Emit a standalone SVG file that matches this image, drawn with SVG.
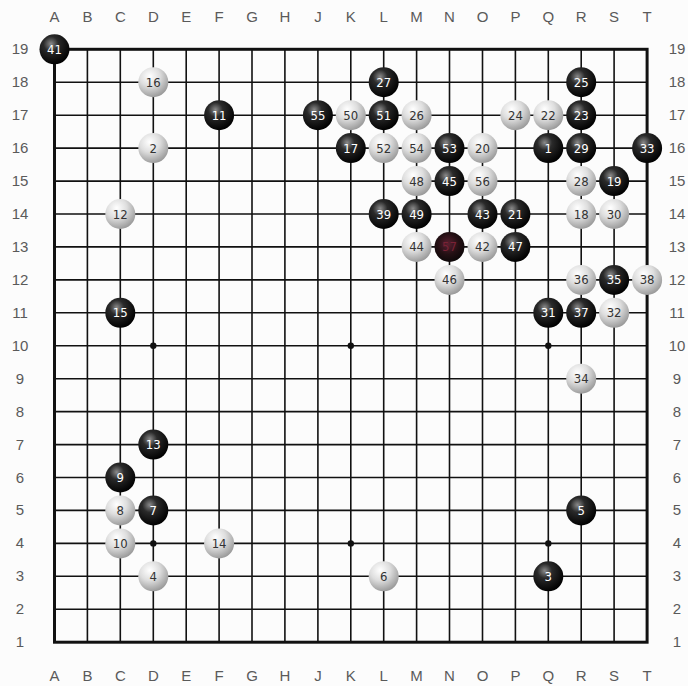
<svg xmlns="http://www.w3.org/2000/svg" width="688" height="686" viewBox="0 0 688 686">
<defs>
<radialGradient id="gb" cx="0.38" cy="0.32" r="0.7">
<stop offset="0" stop-color="#8a8a8a"/>
<stop offset="0.35" stop-color="#2a2a2a"/>
<stop offset="1" stop-color="#000"/>
</radialGradient>
<radialGradient id="gw" cx="0.38" cy="0.3" r="0.75">
<stop offset="0" stop-color="#ffffff"/>
<stop offset="0.45" stop-color="#dedede"/>
<stop offset="1" stop-color="#949494"/>
</radialGradient>
<radialGradient id="gm" cx="0.45" cy="0.4" r="0.7">
<stop offset="0" stop-color="#5a2030"/>
<stop offset="0.5" stop-color="#241014"/>
<stop offset="1" stop-color="#050505"/>
</radialGradient>
</defs>
<style>
.grid line{stroke:#111;stroke-width:1.6}
.border{fill:none;stroke:#111;stroke-width:3}
.star{fill:#111}
.lab{font-family:"Liberation Sans",Arial,sans-serif;font-size:15px;fill:#5a5a5a;text-anchor:middle}
.b circle{fill:url(#gb)}
.w circle{fill:url(#gw)}
.m circle{fill:url(#gm)}
.b text,.w text,.m text{font-family:"DejaVu Sans Condensed","Liberation Sans",sans-serif;font-size:13px;text-anchor:middle}
.b text{fill:#fff}
.w text{fill:#333}
.m text{fill:#7a2236}
</style>
<rect x="0" y="0" width="688" height="686" fill="#fcfcfc"/>
<g id="labels" class="lab">
<text x="54.5" y="22">A</text><text x="87.4" y="22">B</text><text x="120.3" y="22">C</text><text x="153.3" y="22">D</text><text x="186.2" y="22">E</text><text x="219.1" y="22">F</text><text x="252" y="22">G</text><text x="284.9" y="22">H</text><text x="317.9" y="22">J</text><text x="350.8" y="22">K</text><text x="383.7" y="22">L</text><text x="416.6" y="22">M</text><text x="449.5" y="22">N</text><text x="482.5" y="22">O</text><text x="515.4" y="22">P</text><text x="548.3" y="22">Q</text><text x="581.2" y="22">R</text><text x="614.1" y="22">S</text><text x="647.1" y="22">T</text>
<text x="54.5" y="681">A</text><text x="87.4" y="681">B</text><text x="120.3" y="681">C</text><text x="153.3" y="681">D</text><text x="186.2" y="681">E</text><text x="219.1" y="681">F</text><text x="252" y="681">G</text><text x="284.9" y="681">H</text><text x="317.9" y="681">J</text><text x="350.8" y="681">K</text><text x="383.7" y="681">L</text><text x="416.6" y="681">M</text><text x="449.5" y="681">N</text><text x="482.5" y="681">O</text><text x="515.4" y="681">P</text><text x="548.3" y="681">Q</text><text x="581.2" y="681">R</text><text x="614.1" y="681">S</text><text x="647.1" y="681">T</text>
<text x="20" y="54.3">19</text><text x="20" y="87.2">18</text><text x="20" y="120.2">17</text><text x="20" y="153.1">16</text><text x="20" y="186.1">15</text><text x="20" y="219">14</text><text x="20" y="251.9">13</text><text x="20" y="284.9">12</text><text x="20" y="317.8">11</text><text x="20" y="350.7">10</text><text x="20" y="383.7">9</text><text x="20" y="416.6">8</text><text x="20" y="449.6">7</text><text x="20" y="482.5">6</text><text x="20" y="515.4">5</text><text x="20" y="548.4">4</text><text x="20" y="581.3">3</text><text x="20" y="614.3">2</text><text x="20" y="647.2">1</text>
<text x="677" y="54.3">19</text><text x="677" y="87.2">18</text><text x="677" y="120.2">17</text><text x="677" y="153.1">16</text><text x="677" y="186.1">15</text><text x="677" y="219">14</text><text x="677" y="251.9">13</text><text x="677" y="284.9">12</text><text x="677" y="317.8">11</text><text x="677" y="350.7">10</text><text x="677" y="383.7">9</text><text x="677" y="416.6">8</text><text x="677" y="449.6">7</text><text x="677" y="482.5">6</text><text x="677" y="515.4">5</text><text x="677" y="548.4">4</text><text x="677" y="581.3">3</text><text x="677" y="614.3">2</text><text x="677" y="647.2">1</text>
</g>
<g id="connectors">
<g class="grid">
<line x1="87.4" y1="49.3" x2="87.4" y2="642.2"/><line x1="120.3" y1="49.3" x2="120.3" y2="642.2"/><line x1="153.3" y1="49.3" x2="153.3" y2="642.2"/><line x1="186.2" y1="49.3" x2="186.2" y2="642.2"/><line x1="219.1" y1="49.3" x2="219.1" y2="642.2"/><line x1="252" y1="49.3" x2="252" y2="642.2"/><line x1="284.9" y1="49.3" x2="284.9" y2="642.2"/><line x1="317.9" y1="49.3" x2="317.9" y2="642.2"/><line x1="350.8" y1="49.3" x2="350.8" y2="642.2"/><line x1="383.7" y1="49.3" x2="383.7" y2="642.2"/><line x1="416.6" y1="49.3" x2="416.6" y2="642.2"/><line x1="449.5" y1="49.3" x2="449.5" y2="642.2"/><line x1="482.5" y1="49.3" x2="482.5" y2="642.2"/><line x1="515.4" y1="49.3" x2="515.4" y2="642.2"/><line x1="548.3" y1="49.3" x2="548.3" y2="642.2"/><line x1="581.2" y1="49.3" x2="581.2" y2="642.2"/><line x1="614.1" y1="49.3" x2="614.1" y2="642.2"/>
<line x1="54.5" y1="82.2" x2="647.1" y2="82.2"/><line x1="54.5" y1="115.2" x2="647.1" y2="115.2"/><line x1="54.5" y1="148.1" x2="647.1" y2="148.1"/><line x1="54.5" y1="181.1" x2="647.1" y2="181.1"/><line x1="54.5" y1="214" x2="647.1" y2="214"/><line x1="54.5" y1="246.9" x2="647.1" y2="246.9"/><line x1="54.5" y1="279.9" x2="647.1" y2="279.9"/><line x1="54.5" y1="312.8" x2="647.1" y2="312.8"/><line x1="54.5" y1="345.7" x2="647.1" y2="345.7"/><line x1="54.5" y1="378.7" x2="647.1" y2="378.7"/><line x1="54.5" y1="411.6" x2="647.1" y2="411.6"/><line x1="54.5" y1="444.6" x2="647.1" y2="444.6"/><line x1="54.5" y1="477.5" x2="647.1" y2="477.5"/><line x1="54.5" y1="510.4" x2="647.1" y2="510.4"/><line x1="54.5" y1="543.4" x2="647.1" y2="543.4"/><line x1="54.5" y1="576.3" x2="647.1" y2="576.3"/><line x1="54.5" y1="609.3" x2="647.1" y2="609.3"/>
</g>
<rect class="border" x="54.5" y="49.3" width="592.6" height="592.9"/>
<g class="star">
<circle cx="153.3" cy="148.1" r="3.2"/><circle cx="350.8" cy="148.1" r="3.2"/><circle cx="548.3" cy="148.1" r="3.2"/>
<circle cx="153.3" cy="345.7" r="3.2"/><circle cx="350.8" cy="345.7" r="3.2"/><circle cx="548.3" cy="345.7" r="3.2"/>
<circle cx="153.3" cy="543.4" r="3.2"/><circle cx="350.8" cy="543.4" r="3.2"/><circle cx="548.3" cy="543.4" r="3.2"/>
</g>
</g>
<g id="s1" class="b"><circle cx="548.3" cy="148.1" r="15"/><text x="548.3" y="152.6">1</text></g>
<g id="s2" class="w"><circle cx="153.3" cy="148.1" r="15"/><text x="153.3" y="152.6">2</text></g>
<g id="s3" class="b"><circle cx="548.3" cy="576.3" r="15"/><text x="548.3" y="580.8">3</text></g>
<g id="s4" class="w"><circle cx="153.3" cy="576.3" r="15"/><text x="153.3" y="580.8">4</text></g>
<g id="s5" class="b"><circle cx="581.2" cy="510.4" r="15"/><text x="581.2" y="514.9">5</text></g>
<g id="s6" class="w"><circle cx="383.7" cy="576.3" r="15"/><text x="383.7" y="580.8">6</text></g>
<g id="s7" class="b"><circle cx="153.3" cy="510.4" r="15"/><text x="153.3" y="514.9">7</text></g>
<g id="s8" class="w"><circle cx="120.3" cy="510.4" r="15"/><text x="120.3" y="514.9">8</text></g>
<g id="s9" class="b"><circle cx="120.3" cy="477.5" r="15"/><text x="120.3" y="482">9</text></g>
<g id="s10" class="w"><circle cx="120.3" cy="543.4" r="15"/><text x="120.3" y="547.9">10</text></g>
<g id="s11" class="b"><circle cx="219.1" cy="115.2" r="15"/><text x="219.1" y="119.7">11</text></g>
<g id="s12" class="w"><circle cx="120.3" cy="214" r="15"/><text x="120.3" y="218.5">12</text></g>
<g id="s13" class="b"><circle cx="153.3" cy="444.6" r="15"/><text x="153.3" y="449.1">13</text></g>
<g id="s14" class="w"><circle cx="219.1" cy="543.4" r="15"/><text x="219.1" y="547.9">14</text></g>
<g id="s15" class="b"><circle cx="120.3" cy="312.8" r="15"/><text x="120.3" y="317.3">15</text></g>
<g id="s16" class="w"><circle cx="153.3" cy="82.2" r="15"/><text x="153.3" y="86.7">16</text></g>
<g id="s17" class="b"><circle cx="350.8" cy="148.1" r="15"/><text x="350.8" y="152.6">17</text></g>
<g id="s18" class="w"><circle cx="581.2" cy="214" r="15"/><text x="581.2" y="218.5">18</text></g>
<g id="s19" class="b"><circle cx="614.1" cy="181.1" r="15"/><text x="614.1" y="185.6">19</text></g>
<g id="s20" class="w"><circle cx="482.5" cy="148.1" r="15"/><text x="482.5" y="152.6">20</text></g>
<g id="s21" class="b"><circle cx="515.4" cy="214" r="15"/><text x="515.4" y="218.5">21</text></g>
<g id="s22" class="w"><circle cx="548.3" cy="115.2" r="15"/><text x="548.3" y="119.7">22</text></g>
<g id="s23" class="b"><circle cx="581.2" cy="115.2" r="15"/><text x="581.2" y="119.7">23</text></g>
<g id="s24" class="w"><circle cx="515.4" cy="115.2" r="15"/><text x="515.4" y="119.7">24</text></g>
<g id="s25" class="b"><circle cx="581.2" cy="82.2" r="15"/><text x="581.2" y="86.7">25</text></g>
<g id="s26" class="w"><circle cx="416.6" cy="115.2" r="15"/><text x="416.6" y="119.7">26</text></g>
<g id="s27" class="b"><circle cx="383.7" cy="82.2" r="15"/><text x="383.7" y="86.7">27</text></g>
<g id="s28" class="w"><circle cx="581.2" cy="181.1" r="15"/><text x="581.2" y="185.6">28</text></g>
<g id="s29" class="b"><circle cx="581.2" cy="148.1" r="15"/><text x="581.2" y="152.6">29</text></g>
<g id="s30" class="w"><circle cx="614.1" cy="214" r="15"/><text x="614.1" y="218.5">30</text></g>
<g id="s31" class="b"><circle cx="548.3" cy="312.8" r="15"/><text x="548.3" y="317.3">31</text></g>
<g id="s32" class="w"><circle cx="614.1" cy="312.8" r="15"/><text x="614.1" y="317.3">32</text></g>
<g id="s33" class="b"><circle cx="647.1" cy="148.1" r="15"/><text x="647.1" y="152.6">33</text></g>
<g id="s34" class="w"><circle cx="581.2" cy="378.7" r="15"/><text x="581.2" y="383.2">34</text></g>
<g id="s35" class="b"><circle cx="614.1" cy="279.9" r="15"/><text x="614.1" y="284.4">35</text></g>
<g id="s36" class="w"><circle cx="581.2" cy="279.9" r="15"/><text x="581.2" y="284.4">36</text></g>
<g id="s37" class="b"><circle cx="581.2" cy="312.8" r="15"/><text x="581.2" y="317.3">37</text></g>
<g id="s38" class="w"><circle cx="647.1" cy="279.9" r="15"/><text x="647.1" y="284.4">38</text></g>
<g id="s39" class="b"><circle cx="383.7" cy="214" r="15"/><text x="383.7" y="218.5">39</text></g>
<g id="s41" class="b"><circle cx="54.5" cy="49.3" r="15"/><text x="54.5" y="53.8">41</text></g>
<g id="s42" class="w"><circle cx="482.5" cy="246.9" r="15"/><text x="482.5" y="251.4">42</text></g>
<g id="s43" class="b"><circle cx="482.5" cy="214" r="15"/><text x="482.5" y="218.5">43</text></g>
<g id="s44" class="w"><circle cx="416.6" cy="246.9" r="15"/><text x="416.6" y="251.4">44</text></g>
<g id="s45" class="b"><circle cx="449.5" cy="181.1" r="15"/><text x="449.5" y="185.6">45</text></g>
<g id="s46" class="w"><circle cx="449.5" cy="279.9" r="15"/><text x="449.5" y="284.4">46</text></g>
<g id="s47" class="b"><circle cx="515.4" cy="246.9" r="15"/><text x="515.4" y="251.4">47</text></g>
<g id="s48" class="w"><circle cx="416.6" cy="181.1" r="15"/><text x="416.6" y="185.6">48</text></g>
<g id="s49" class="b"><circle cx="416.6" cy="214" r="15"/><text x="416.6" y="218.5">49</text></g>
<g id="s50" class="w"><circle cx="350.8" cy="115.2" r="15"/><text x="350.8" y="119.7">50</text></g>
<g id="s51" class="b"><circle cx="383.7" cy="115.2" r="15"/><text x="383.7" y="119.7">51</text></g>
<g id="s52" class="w"><circle cx="383.7" cy="148.1" r="15"/><text x="383.7" y="152.6">52</text></g>
<g id="s53" class="b"><circle cx="449.5" cy="148.1" r="15"/><text x="449.5" y="152.6">53</text></g>
<g id="s54" class="w"><circle cx="416.6" cy="148.1" r="15"/><text x="416.6" y="152.6">54</text></g>
<g id="s55" class="b"><circle cx="317.9" cy="115.2" r="15"/><text x="317.9" y="119.7">55</text></g>
<g id="s56" class="w"><circle cx="482.5" cy="181.1" r="15"/><text x="482.5" y="185.6">56</text></g>
<g id="s57" class="m"><circle cx="449.5" cy="246.9" r="15"/><text x="449.5" y="251.4">57</text></g>
</svg>
